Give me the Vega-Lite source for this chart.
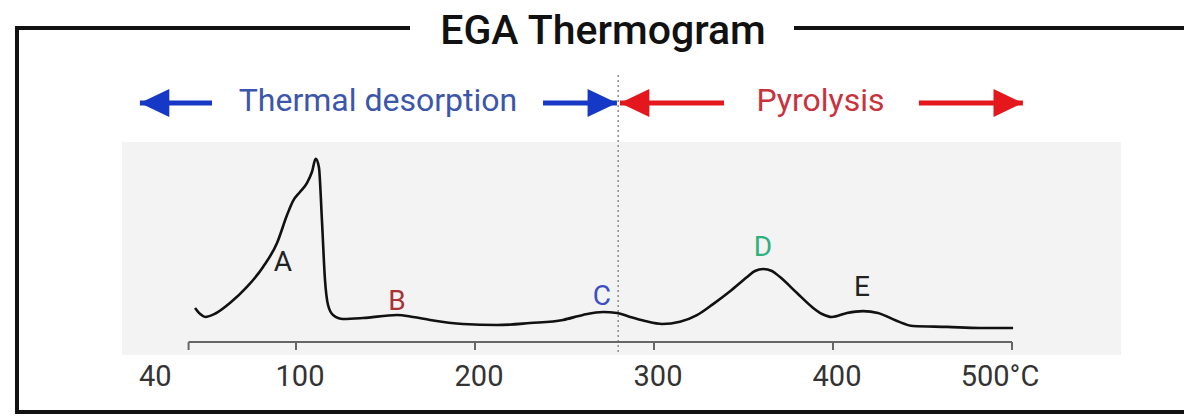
{
  "$schema": "https://vega.github.io/schema/vega-lite/v6.json",
  "width": 1184,
  "height": 416,
  "padding": 0,
  "autosize": {"type": "none"},
  "background": "#ffffff",
  "config": {"view": {"stroke": null}},
  "datasets": {
    "panel": [{"x1": 2.79, "x2": 560.89, "y1": 108.7, "y2": -7.07}],
    "frame": [
      {"x1": -56.98, "x2": 163.69, "y1": 170.65, "y2": 170.65},
      {"x1": 378.21, "x2": 596.09, "y1": 170.65, "y2": 170.65},
      {"x1": -55.87, "x2": -55.87, "y1": 171.74, "y2": -39.13},
      {"x1": -56.98, "x2": 596.09, "y1": -38.04, "y2": -38.04}
    ],
    "boundary": [{"T": 280, "top": 145.1, "bottom": -7.07}],
    "baseline": [{"from": 40, "to": 500, "level": 0}],
    "ticks": [
      {"T": 40, "label": "40", "level": 0},
      {"T": 100, "label": "100", "level": 0},
      {"T": 200, "label": "200", "level": 0},
      {"T": 300, "label": "300", "level": 0},
      {"T": 400, "label": "400", "level": 0},
      {"T": 500, "label": "500°C", "level": 0}
    ],
    "thermogram": [
      {"T": 43.6, "I": 18.5}, {"T": 46.5, "I": 15.2}, {"T": 49.2, "I": 13.6},
      {"T": 55.0, "I": 15.5}, {"T": 63.1, "I": 21.2}, {"T": 72.6, "I": 29.9},
      {"T": 81.6, "I": 40.8}, {"T": 89.4, "I": 53.8}, {"T": 95.0, "I": 69.0},
      {"T": 98.3, "I": 76.6}, {"T": 102.2, "I": 81.5}, {"T": 106.1, "I": 86.4},
      {"T": 108.9, "I": 92.4}, {"T": 111.0, "I": 99.5},
      {"T": 112.8, "I": 95.0}, {"T": 114.5, "I": 66.0}, {"T": 116.2, "I": 33.7},
      {"T": 117.9, "I": 20.1}, {"T": 120.7, "I": 14.7},
      {"T": 126.3, "I": 12.5}, {"T": 137.4, "I": 13.0},
      {"T": 156.4, "I": 14.7}, {"T": 165.4, "I": 13.6}, {"T": 174.9, "I": 12.0},
      {"T": 193.3, "I": 9.8}, {"T": 212.3, "I": 9.2}, {"T": 230.7, "I": 10.3},
      {"T": 249.2, "I": 12.0}, {"T": 260.3, "I": 14.7}, {"T": 271.5, "I": 16.3},
      {"T": 279.3, "I": 15.8}, {"T": 286.6, "I": 13.6}, {"T": 295.0, "I": 11.4},
      {"T": 304.5, "I": 9.8}, {"T": 314.5, "I": 11.0}, {"T": 324.0, "I": 14.6},
      {"T": 333.0, "I": 20.6}, {"T": 342.5, "I": 27.6}, {"T": 352.0, "I": 35.3},
      {"T": 356.4, "I": 38.6}, {"T": 361.0, "I": 39.7}, {"T": 365.9, "I": 38.6},
      {"T": 370.4, "I": 35.3}, {"T": 379.9, "I": 26.6}, {"T": 388.3, "I": 19.0},
      {"T": 393.9, "I": 15.2}, {"T": 399.4, "I": 13.6}, {"T": 407.8, "I": 15.8},
      {"T": 416.8, "I": 16.8}, {"T": 425.1, "I": 15.8}, {"T": 435.8, "I": 11.4},
      {"T": 444.7, "I": 8.7}, {"T": 463.7, "I": 8.2}, {"T": 482.1, "I": 7.6},
      {"T": 500.6, "I": 7.6}
    ],
    "peaks": [
      {"peak": "A", "T": 92.7, "I": 42.9},
      {"peak": "B", "T": 156.4, "I": 21.7},
      {"peak": "C", "T": 270.9, "I": 24.5},
      {"peak": "D", "T": 360.9, "I": 51.1},
      {"peak": "E", "T": 416.2, "I": 29.3}
    ],
    "arrows": [
      {"region": "Thermal desorption", "dir": "left", "tip": 12.8, "tail": 53.1, "I": 129.9},
      {"region": "Thermal desorption", "dir": "right", "tip": 279.3, "tail": 238.0, "I": 129.9},
      {"region": "Pyrolysis", "dir": "left", "tip": 281.0, "tail": 339.1, "I": 129.9},
      {"region": "Pyrolysis", "dir": "right", "tip": 506.1, "tail": 448.0, "I": 129.9}
    ],
    "regions": [
      {"region": "Thermal desorption", "T": 145.8, "I": 131.0},
      {"region": "Pyrolysis", "T": 393.0, "I": 131.0}
    ],
    "heading": [{"text": "EGA Thermogram", "T": 271.5, "I": 161.96}]
  },
  "resolve": {"scale": {"color": "independent"}},
  "layer": [
    {
      "data": {"name": "panel"},
      "mark": {"type": "rect", "color": "#f3f3f3"},
      "encoding": {
        "x": {
          "field": "x1", "type": "quantitative",
          "scale": {"domain": [-65.36, 596.09], "nice": false, "zero": false},
          "axis": null
        },
        "x2": {"field": "x2"},
        "y": {
          "field": "y1", "type": "quantitative",
          "scale": {"domain": [-40.22, 185.87], "nice": false, "zero": false},
          "axis": null
        },
        "y2": {"field": "y2"}
      }
    },
    {
      "data": {"name": "frame"},
      "mark": {"type": "rule", "color": "#111111", "strokeWidth": 4},
      "encoding": {
        "x": {"field": "x1", "type": "quantitative", "axis": null},
        "x2": {"field": "x2"},
        "y": {"field": "y1", "type": "quantitative", "axis": null},
        "y2": {"field": "y2"}
      }
    },
    {
      "data": {"name": "boundary"},
      "mark": {"type": "rule", "color": "#8c8c8c", "strokeWidth": 1.5, "strokeDash": [2, 3]},
      "encoding": {
        "x": {"field": "T", "type": "quantitative", "axis": null},
        "y": {"field": "top", "type": "quantitative", "axis": null},
        "y2": {"field": "bottom"}
      }
    },
    {
      "data": {"name": "baseline"},
      "mark": {"type": "rule", "color": "#666666", "strokeWidth": 2},
      "encoding": {
        "x": {"field": "from", "type": "quantitative", "axis": null},
        "x2": {"field": "to"},
        "y": {"field": "level", "type": "quantitative", "axis": null}
      }
    },
    {
      "data": {"name": "ticks"},
      "mark": {"type": "tick", "orient": "vertical", "color": "#666666", "size": 8, "thickness": 2, "yOffset": 4, "opacity": 1},
      "encoding": {
        "x": {"field": "T", "type": "quantitative", "axis": null},
        "y": {"field": "level", "type": "quantitative", "axis": null}
      }
    },
    {
      "data": {"name": "ticks"},
      "transform": [{"filter": "datum.T > 40 && datum.T < 500"}],
      "mark": {"type": "text", "font": "Roboto", "fontSize": 29, "color": "#333333", "align": "center", "baseline": "alphabetic", "dy": 44, "dx": 4},
      "encoding": {
        "x": {"field": "T", "type": "quantitative", "axis": null},
        "y": {"field": "level", "type": "quantitative", "axis": null},
        "text": {"field": "label"}
      }
    },
    {
      "data": {"name": "ticks"},
      "transform": [{"filter": "datum.T == 40"}],
      "mark": {"type": "text", "font": "Roboto", "fontSize": 29, "color": "#333333", "align": "right", "baseline": "alphabetic", "dy": 44, "dx": -17},
      "encoding": {
        "x": {"field": "T", "type": "quantitative", "axis": null},
        "y": {"field": "level", "type": "quantitative", "axis": null},
        "text": {"field": "label"}
      }
    },
    {
      "data": {"name": "ticks"},
      "transform": [{"filter": "datum.T == 500"}],
      "mark": {"type": "text", "font": "Roboto", "fontSize": 29, "color": "#333333", "align": "center", "baseline": "alphabetic", "dy": 44, "dx": -12},
      "encoding": {
        "x": {"field": "T", "type": "quantitative", "axis": null},
        "y": {"field": "level", "type": "quantitative", "axis": null},
        "text": {"field": "label"}
      }
    },
    {
      "data": {"name": "thermogram"},
      "mark": {"type": "line", "color": "#111111", "strokeWidth": 2.6, "interpolate": "monotone"},
      "encoding": {
        "x": {"field": "T", "type": "quantitative", "axis": null},
        "y": {"field": "I", "type": "quantitative", "axis": null}
      }
    },
    {
      "data": {"name": "peaks"},
      "mark": {"type": "text", "font": "Roboto", "fontSize": 28, "baseline": "middle", "align": "center"},
      "encoding": {
        "x": {"field": "T", "type": "quantitative", "axis": null},
        "y": {"field": "I", "type": "quantitative", "axis": null},
        "text": {"field": "peak"},
        "color": {
          "field": "peak", "type": "nominal", "legend": null,
          "scale": {"domain": ["A", "B", "C", "D", "E"], "range": ["#222222", "#a83236", "#3b4fc4", "#2fb07c", "#222222"]}
        }
      }
    },
    {
      "data": {"name": "arrows"},
      "mark": {"type": "rule", "strokeWidth": 5},
      "encoding": {
        "x": {"field": "tip", "type": "quantitative", "axis": null},
        "x2": {"field": "tail"},
        "y": {"field": "I", "type": "quantitative", "axis": null},
        "color": {
          "field": "region", "type": "nominal", "legend": null,
          "scale": {"domain": ["Thermal desorption", "Pyrolysis"], "range": ["#1638c6", "#e3171c"]}
        }
      }
    },
    {
      "data": {"name": "arrows"},
      "mark": {"type": "point", "filled": true, "opacity": 1, "size": 784, "strokeWidth": 0},
      "encoding": {
        "x": {"field": "tip", "type": "quantitative", "axis": null},
        "y": {"field": "I", "type": "quantitative", "axis": null},
        "shape": {
          "field": "dir", "type": "nominal", "legend": null,
          "scale": {"domain": ["left", "right"], "range": ["M0,0L2.1,-1L2.1,1Z", "M0,0L-2.1,-1L-2.1,1Z"]}
        },
        "color": {
          "field": "region", "type": "nominal", "legend": null,
          "scale": {"domain": ["Thermal desorption", "Pyrolysis"], "range": ["#1638c6", "#e3171c"]}
        }
      }
    },
    {
      "data": {"name": "regions"},
      "mark": {"type": "text", "font": "Roboto", "fontSize": 32, "baseline": "middle", "align": "center"},
      "encoding": {
        "x": {"field": "T", "type": "quantitative", "axis": null},
        "y": {"field": "I", "type": "quantitative", "axis": null},
        "text": {"field": "region"},
        "color": {
          "field": "region", "type": "nominal", "legend": null,
          "scale": {"domain": ["Thermal desorption", "Pyrolysis"], "range": ["#3b56aa", "#c9323d"]}
        }
      }
    },
    {
      "data": {"name": "heading"},
      "mark": {"type": "text", "font": "Roboto", "fontSize": 41, "fontWeight": 500, "baseline": "alphabetic", "align": "center", "color": "#111111"},
      "encoding": {
        "x": {"field": "T", "type": "quantitative", "axis": null},
        "y": {"field": "I", "type": "quantitative", "axis": null},
        "text": {"field": "text"}
      }
    }
  ]
}
